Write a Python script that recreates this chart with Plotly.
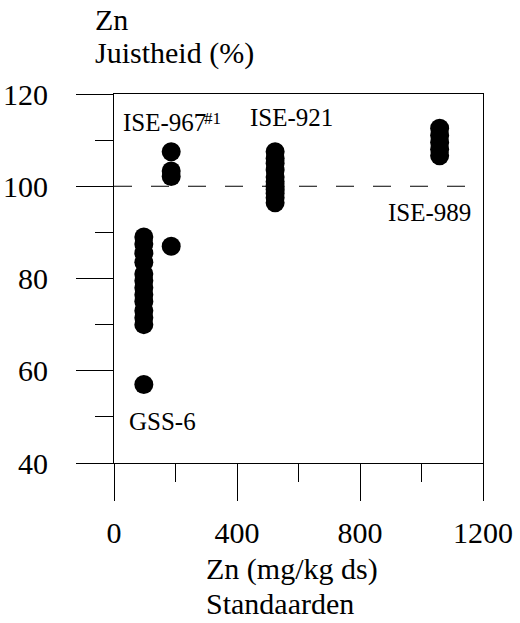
import plotly.graph_objects as go

# Zn recovery ("juistheid") for the reference standards
gss6_zn = 97
gss6_rec = [89.0, 87.5, 85.5, 83.5, 81.0, 79.5, 78.0, 76.5, 75.0, 73.0, 71.5, 70.0, 57.0]

ise967_zn = 186
ise967_rec = [107.5, 103.3, 102.1, 87.0]

ise921_zn = 524
ise921_rec = [107.5, 106.0, 105.0, 103.5, 102.0, 101.0, 100.0, 99.3, 98.5, 97.5, 96.4]

ise989_zn = 1059
ise989_rec = [112.6, 111.0, 109.5, 108.0, 106.6]

x_ticks = [0, 400, 800, 1200]
x_minor = [200, 600, 1000]
y_ticks = [40, 60, 80, 100, 120]
y_minor = [50, 70, 90, 110]
target_rec = 100

FONT = "Liberation Serif"

fig = go.Figure()

for zn, rec in [(gss6_zn, gss6_rec), (ise967_zn, ise967_rec),
                (ise921_zn, ise921_rec), (ise989_zn, ise989_rec)]:
    fig.add_trace(go.Scatter(
        x=[zn] * len(rec), y=rec, mode="markers",
        marker=dict(size=19, color="black"),
        showlegend=False,
    ))

# 100 % reference line
fig.add_shape(type="line", xref="x", yref="y", x0=0, x1=1200,
              y0=target_rec, y1=target_rec,
              line=dict(color="black", width=1, dash="18px,19px"))

# standard names next to their points
labels = [
    ("ISE-967", 21.8, 113.9, 25),
    ("#1", 287.0, 114.6, 17),
    ("ISE-921", 435.8, 115.0, 25),
    ("ISE-989", 884.6, 94.4, 25),
    ("GSS-6", 41.3, 49.1, 25),
]
for txt, lx, ly, fs in labels:
    fig.add_annotation(text=txt, x=lx, y=ly, xref="x", yref="y",
                       xanchor="left", yanchor="middle", showarrow=False,
                       font=dict(family=FONT, size=fs, color="black"))

# axis titles
titles = [
    ("Standaarden", 0.2439, 1.2821),
    ("Zn", -0.0577, 1.2016),
    ("Juistheid (%)", -0.0577, 1.1098),
    ("Zn (mg/kg ds)", 0.2439, -0.2873),
    ("Standaarden", 0.2439, -0.3821),
]
for txt, px, py in titles:
    fig.add_annotation(text=txt, x=px, y=py, xref="paper", yref="paper",
                       xanchor="left", yanchor="middle", showarrow=False,
                       font=dict(family=FONT, size=30, color="black"))

axis_common = dict(
    showgrid=False, zeroline=False, showline=True, linecolor="black",
    linewidth=1, mirror=True, ticks="outside", ticklen=37, tickwidth=1,
    tickcolor="black", tickfont=dict(family=FONT, size=30, color="black"),
    automargin=False,
)

fig.update_xaxes(range=[0, 1200], tickvals=x_ticks, ticklabelstandoff=6,
                 minor=dict(tickvals=x_minor, ticks="outside",
                            ticklen=18, tickwidth=1, tickcolor="black",
                            showgrid=False),
                 **axis_common)
fig.update_yaxes(range=[40, 120], tickvals=y_ticks, ticklabelstandoff=22,
                 minor=dict(tickvals=y_minor, ticks="outside",
                            ticklen=18, tickwidth=1, tickcolor="black",
                            showgrid=False),
                 **axis_common)

fig.update_layout(
    width=520, height=623,
    margin=dict(l=114, r=37, t=94, b=160),
    paper_bgcolor="white", plot_bgcolor="white",
    font=dict(family=FONT, color="black"),
)

fig.write_html("out.html")
